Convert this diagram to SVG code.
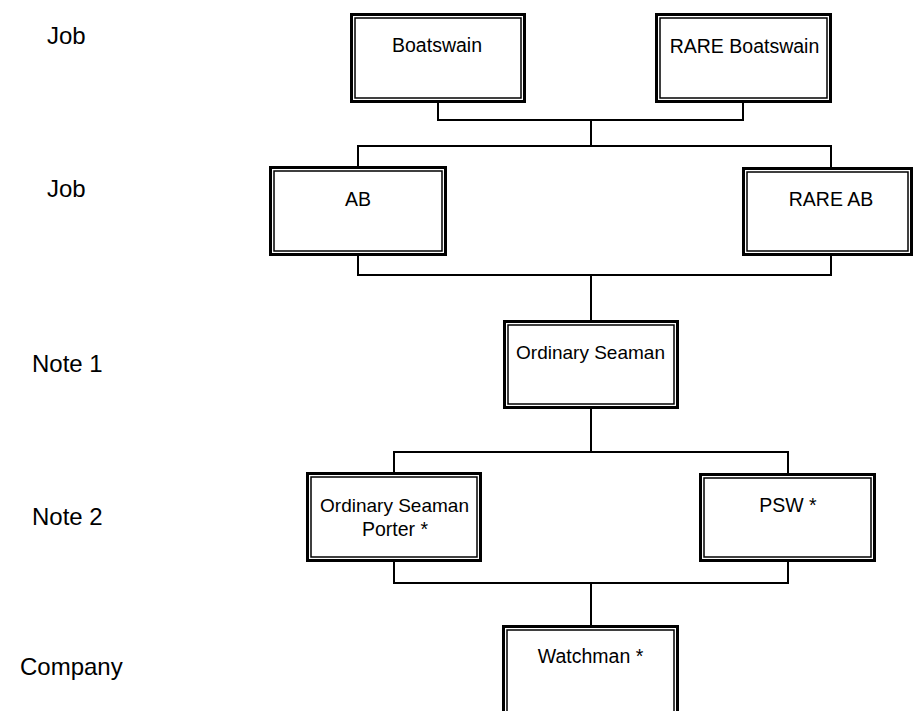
<svg xmlns="http://www.w3.org/2000/svg" width="921" height="711" viewBox="0 0 921 711">
<style>
.outer{fill:#fff;stroke:#000;stroke-width:3}
.inner{fill:none;stroke:#000;stroke-width:1.5}
.t{font-family:"Liberation Sans",Arial,sans-serif;font-size:19.5px;fill:#000;text-anchor:middle}
.s{font-size:19px}
.lbl{font-family:"Liberation Sans",Arial,sans-serif;font-size:24px;fill:#000}
.conn{fill:none;stroke:#000;stroke-width:2}
</style>
<rect width="921" height="711" fill="#fff"/>
<g id="labels">
<text class="lbl" x="47" y="44">Job</text>
<text class="lbl" x="47" y="197">Job</text>
<text class="lbl" x="32" y="372">Note 1</text>
<text class="lbl" x="32" y="525">Note 2</text>
<text class="lbl" x="20" y="675">Company</text>
</g>
<g id="connectors">
<path class="conn" d="M438,103 V120 H743 V103"/>
<path class="conn" d="M591,120 V146"/>
<path class="conn" d="M358,166 V146 H831 V167"/>
<path class="conn" d="M358,256 V275 H831 V256"/>
<path class="conn" d="M591,275 V320"/>
<path class="conn" d="M591,409 V452"/>
<path class="conn" d="M394,472 V452 H788 V473"/>
<path class="conn" d="M394,562 V583 H788 V562"/>
<path class="conn" d="M591,583 V625"/>
</g>
<g id="boatswain">
<rect class="outer" x="351.5" y="14.5" width="173" height="87"/>
<rect class="inner" x="355" y="18" width="166" height="80"/>
<text class="t" x="437" y="52">Boatswain</text>
</g>
<g id="rare-boatswain">
<rect class="outer" x="656.5" y="14.5" width="174" height="87"/>
<rect class="inner" x="660" y="18" width="167" height="80"/>
<text class="t" x="744.5" y="53">RARE Boatswain</text>
</g>
<g id="ab">
<rect class="outer" x="270.5" y="167.5" width="175" height="87"/>
<rect class="inner" x="274" y="171" width="168" height="80"/>
<text class="t" x="358" y="206">AB</text>
</g>
<g id="rare-ab">
<rect class="outer" x="743.5" y="168.5" width="168" height="86"/>
<rect class="inner" x="747" y="172" width="161" height="79"/>
<text class="t" x="831" y="206">RARE AB</text>
</g>
<g id="ordinary-seaman">
<rect class="outer" x="504.5" y="321.5" width="173" height="86"/>
<rect class="inner" x="508" y="325" width="166" height="79"/>
<text class="t s" x="590.5" y="359">Ordinary Seaman</text>
</g>
<g id="ordinary-seaman-porter">
<rect class="outer" x="307.5" y="473.5" width="173" height="87"/>
<rect class="inner" x="311" y="477" width="166" height="80"/>
<text class="t s" x="394.5" y="512">Ordinary Seaman</text>
<text class="t" x="395" y="536">Porter *</text>
</g>
<g id="psw">
<rect class="outer" x="700.5" y="474.5" width="174" height="86"/>
<rect class="inner" x="704" y="478" width="167" height="79"/>
<text class="t" x="788" y="512">PSW *</text>
</g>
<g id="watchman">
<rect class="outer" x="503.5" y="626.5" width="174" height="100"/>
<rect class="inner" x="507" y="630" width="167" height="100"/>
<text class="t" x="590.5" y="663">Watchman *</text>
</g>
</svg>
